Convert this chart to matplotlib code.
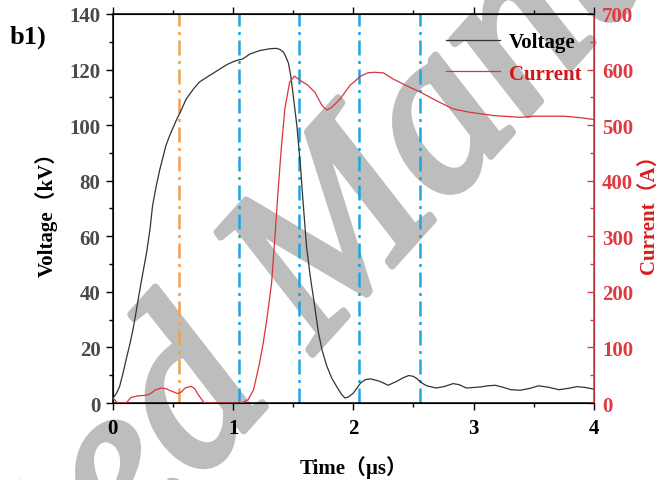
import matplotlib
matplotlib.use("Agg")
import matplotlib.pyplot as plt
import matplotlib.patheffects as pe
from matplotlib.lines import Line2D
from matplotlib.ticker import MultipleLocator

# voltage waveform (us, kV)
t_v = [0, 0.03, 0.056, 0.08, 0.11, 0.14, 0.167, 0.19, 0.22, 0.25, 0.28, 0.31, 0.33, 0.36,
       0.39, 0.42, 0.44, 0.47, 0.5, 0.53, 0.56, 0.61, 0.67, 0.72, 0.78, 0.84, 0.89, 0.95,
       1.0, 1.04, 1.08, 1.14, 1.22, 1.31, 1.36, 1.39, 1.42, 1.44, 1.46, 1.48, 1.5, 1.53,
       1.56, 1.58, 1.61, 1.64, 1.67, 1.71, 1.74, 1.78, 1.82, 1.86, 1.9, 1.93, 1.96, 2.0,
       2.03, 2.06, 2.1, 2.14, 2.18, 2.22, 2.29, 2.36, 2.41, 2.46, 2.5, 2.53, 2.57, 2.61,
       2.69, 2.76, 2.83, 2.88, 2.94, 3.06, 3.12, 3.18, 3.25, 3.31, 3.39, 3.47, 3.54, 3.62,
       3.71, 3.79, 3.86, 3.93, 4.0]
voltage = [1.8, 3.5, 6, 10, 15.6, 21, 26.4, 32, 39.7, 47, 54, 63, 71, 78,
           84, 89, 92.5, 96, 99, 102, 104.6, 109.4, 113, 115.5, 117.2, 118.8, 120.2, 121.8,
           122.8, 123.4, 123.8, 125.6, 126.8, 127.5, 127.6, 127.2, 126.2, 124.4, 122.3, 117.5, 110.6, 99.8,
           85.3, 73.3, 56.5, 46, 37.3, 25.2, 19, 13.2, 9, 6, 3.2, 1.8, 2.2, 3.6,
           5.4, 7.2, 8.4, 8.7, 8.3, 7.8, 6.4, 7.8, 9.0, 9.9, 9.6, 8.7, 7.2, 6.2,
           5.4, 6.0, 7, 6.6, 5.4, 5.8, 6.2, 6.4, 5.6, 4.8, 4.6, 5.3, 6.2, 5.7,
           4.8, 5.3, 5.9, 5.6, 5.0]

# current waveform (us, A)
t_i = [0, 0.04, 0.11, 0.15, 0.21, 0.28, 0.32, 0.35, 0.4, 0.44, 0.47, 0.54, 0.57, 0.6, 0.65,
       0.68, 0.71, 0.76, 1.07, 1.125, 1.17, 1.22, 1.25, 1.28, 1.32, 1.35, 1.375, 1.4, 1.43,
       1.47, 1.51, 1.56, 1.62, 1.68, 1.74, 1.78, 1.82, 1.89, 1.97, 2.06, 2.12, 2.17, 2.25,
       2.33, 2.44, 2.56, 2.69, 2.83, 2.97, 3.17, 3.39, 3.5, 3.75, 3.9, 4.0]
current = [9, 0, 0, 10, 13, 14, 18, 23, 27, 26, 23, 17, 20, 27, 30,
           26, 15, 0, 0, 6, 24, 72, 108, 150, 216, 306, 385, 457, 529,
           577, 588, 580, 572, 559, 535, 527, 532, 547, 571, 588, 594, 595, 594,
           583, 571, 559, 544, 529, 523, 517, 514, 516, 516, 513, 510]

orange_mark = [0.55]
blue_marks = [1.05, 1.55, 2.05, 2.55]

serif = ['Liberation Serif', 'Noto Sans CJK SC']
red = '#e03a40'
wm_gray = '#bdbdbd'

fig = plt.figure(figsize=(6.68, 4.81), dpi=100, facecolor='white')
ax = fig.add_axes([0.169, 0.160, 0.72, 0.809])
ax2 = ax.twinx()
ax.patch.set_visible(False)

ax.plot(t_v, voltage, color='#333333', lw=0.9, zorder=3)
ax2.plot(t_i, current, color='#d9343c', lw=0.9, zorder=3)

for x in orange_mark:
    ax.axvline(x, color='#f0a050', lw=1.8, dashes=(6, 2.2, 1.2, 2.2), zorder=2)
for x in blue_marks:
    ax.axvline(x, color='#1ea5e0', lw=1.8, dashes=(6, 2.2, 1.2, 2.2), zorder=2)

ax.set_xlim(0, 4)
ax.set_ylim(0, 140)
ax2.set_ylim(0, 700)

ax.xaxis.set_major_locator(MultipleLocator(1))
ax.xaxis.set_minor_locator(MultipleLocator(0.5))
ax.yaxis.set_major_locator(MultipleLocator(20))
ax.yaxis.set_minor_locator(MultipleLocator(10))
ax2.yaxis.set_major_locator(MultipleLocator(100))
ax2.yaxis.set_minor_locator(MultipleLocator(50))

ax.tick_params(axis='x', which='both', direction='out', top=True, labeltop=False,
               labelsize=15, colors='black', pad=6)
ax.tick_params(axis='x', which='major', length=5, width=1)
ax.tick_params(axis='x', which='minor', length=3, width=1)
ax.tick_params(axis='y', which='both', direction='out', labelsize=15, labelcolor='#4a4a4a', pad=4)
ax.tick_params(axis='y', which='major', length=5, width=1)
ax.tick_params(axis='y', which='minor', length=3, width=1)
ax2.tick_params(axis='y', which='both', direction='in', colors=red, labelsize=15, pad=6)
ax2.tick_params(axis='y', which='major', length=5, width=1)
ax2.tick_params(axis='y', which='minor', length=3, width=1)

for lab in ax.get_xticklabels() + ax.get_yticklabels() + ax2.get_yticklabels():
    lab.set_family(serif)
    lab.set_fontweight('bold')

for s in ['left', 'bottom', 'top']:
    ax.spines[s].set_linewidth(1.1)
ax2.spines['right'].set_color(red)
ax2.spines['right'].set_linewidth(1.1)

ax.set_xlabel('Time（µs）', family=serif, fontweight='bold', fontsize=15, labelpad=12)
ax.set_ylabel('Voltage（kV）', family=serif, fontweight='bold', fontsize=15, labelpad=8)
ax2.set_ylabel('Current（A）', family=serif, fontweight='bold', fontsize=15,
               color='#d81e1e', labelpad=4)

handles = [Line2D([], [], color='#333333', lw=0.9), Line2D([], [], color='#d9343c', lw=0.9)]
leg = ax2.legend(handles, ['Voltage', 'Current'], loc='upper right', frameon=False,
                 prop={'family': serif, 'weight': 'bold', 'size': 15},
                 handlelength=2.6, handletextpad=0.4, labelspacing=0.55,
                 borderaxespad=0.2, bbox_to_anchor=(1.0, 0.985))
leg.get_texts()[1].set_color('#d01818')

fig.text(0.015, 0.91, 'b1)', family=serif, fontweight='bold', fontsize=19)

# diagonal watermark, drawn beneath the axes so the curves stay on top
fig.text(0.49, 0.47, 'Accepted Manuscript', family='Liberation Serif', style='italic',
         fontsize=168, color=wm_gray, rotation=48,
         ha='center', va='center', rotation_mode='anchor', zorder=-1,
         path_effects=[pe.withStroke(linewidth=5, foreground=wm_gray)])

fig.savefig('out.png', dpi=100, facecolor='white')
